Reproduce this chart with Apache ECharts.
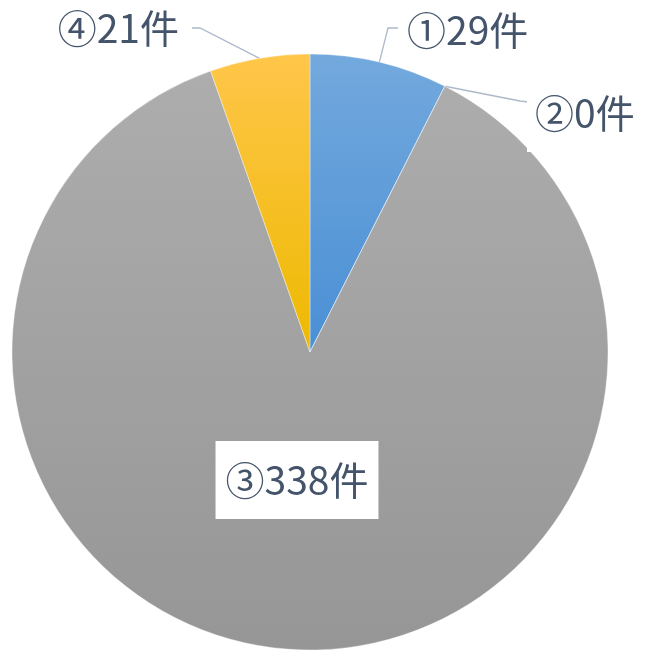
<!DOCTYPE html>
<html><head><meta charset="utf-8">
<script src="https://cdn.jsdelivr.net/npm/echarts@6/dist/echarts.min.js"></script>
<style>html,body{margin:0;padding:0;background:#fff}#c{width:646px;height:652px}</style>
</head><body><div id="c"></div>
<script>
const categories = ['①', '②', '③', '④'];
const values = [29, 0, 338, 21];
const unit = '件';

const gradients = [
  ['#73a9dd', '#4a8fd5'],
  ['#73a9dd', '#4a8fd5'],
  ['#adadad', '#969696'],
  ['#ffc64a', '#edb900']
];
// label placement (styling only)
const labelPos = [
  {x: 407, y: 30, align: 'left', bend: [[388, 28], [398, 28]]},
  {x: 527, y: 113, align: 'left', bend: [[520, 101], [528, 102]]},
  {x: 297, y: 480, align: 'center', bend: null},
  {x: 179, y: 28, align: 'right', bend: [[200, 28], [192, 28]]}
];

const chart = echarts.init(document.getElementById('c'), null, {renderer: 'canvas'});
const data = categories.map((c, i) => ({
  name: c,
  value: values[i],
  itemStyle: {
    color: new echarts.graphic.LinearGradient(0, 0, 0, 1, [
      {offset: 0, color: gradients[i][0]},
      {offset: 1, color: gradients[i][1]}
    ])
  },
  label: i === 2 ? {position: 'inside', backgroundColor: '#fff', padding: [19, 10]} :
         i === 1 ? {backgroundColor: '#fff', padding: [19, 8]} : {},
  labelLine: {show: i !== 2}
}));

chart.setOption({
  animation: false,
  series: [{
    type: 'pie',
    center: [310, 352],
    radius: 298,
    startAngle: 90,
    clockwise: true,
    avoidLabelOverlap: false,
    minAngle: 0,
    itemStyle: {borderColor: 'rgba(255,255,255,0.6)', borderWidth: 0.6},
    label: {
      show: true,
      formatter: p => p.name + p.value + unit,
      fontFamily: "'Noto Sans CJK JP'",
      fontSize: 39,
      lineHeight: 40,
      color: '#44546a'
    },
    labelLine: {show: true, lineStyle: {color: '#adb9ca', width: 1.3}, length: 20, length2: 10},
    labelLayout: function (params) {
      const lp = labelPos[params.dataIndex];
      const out = {x: lp.x, y: lp.y, align: lp.align, verticalAlign: 'middle'};
      if (lp.bend && params.labelLinePoints) {
        out.labelLinePoints = [params.labelLinePoints[0], lp.bend[0], lp.bend[1]];
      }
      return out;
    },
    data: data
  }]
});
</script></body></html>
